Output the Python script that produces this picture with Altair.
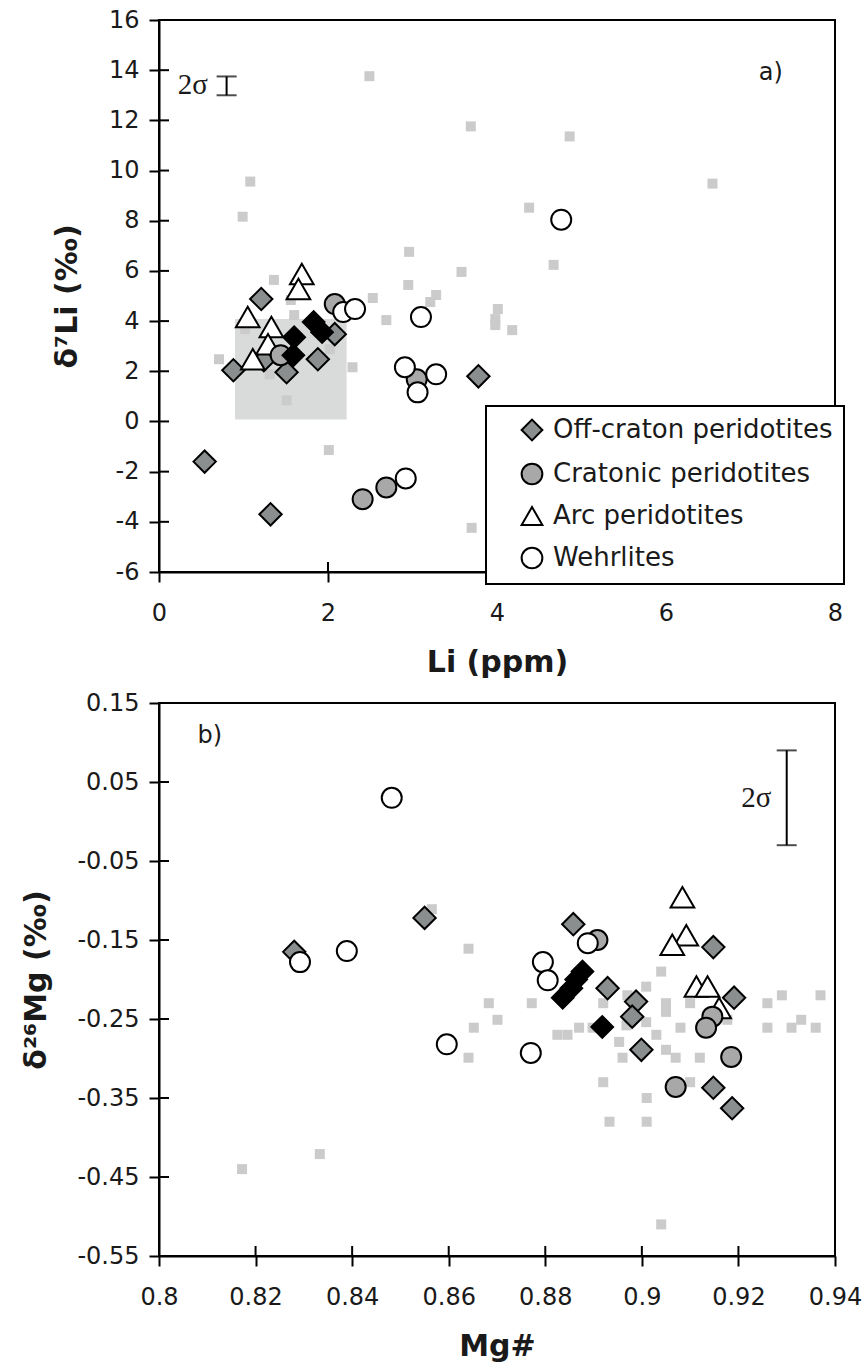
import altair as alt
import pandas as pd

# ---------------- data: panel a (Li vs d7Li) ----------------
cats = ["Off-craton peridotites", "Cratonic peridotites", "Arc peridotites", "Wehrlites"]

a_off_x = [0.54, 1.32, 0.88, 1.21, 1.24, 1.51, 1.88, 2.08, 3.78]
a_off_y = [-1.6, -3.7, 2.04, 4.88, 2.44, 1.96, 2.48, 3.48, 1.8]
a_crat_x = [2.08, 1.44, 3.05, 2.41, 2.69]
a_crat_y = [4.68, 2.64, 1.68, -3.1, -2.63]
a_arc_x = [1.69, 1.65, 1.05, 1.33, 1.29, 1.11]
a_arc_y = [5.88, 5.28, 4.16, 3.76, 3.08, 2.48]
a_weh_x = [2.18, 2.32, 3.10, 2.91, 3.28, 3.06, 4.76, 2.92]
a_weh_y = [4.36, 4.48, 4.16, 2.16, 1.88, 1.16, 8.04, -2.27]
a_blk_x = [1.60, 1.83, 1.93, 1.59]
a_blk_y = [3.36, 3.96, 3.56, 2.64]
a_lit_x = [1.08, 0.99, 2.96, 1.36, 3.58, 2.95, 3.28, 3.21, 2.53, 1.56, 2.69, 4.01, 3.98, 3.98,
           4.18, 1.60, 1.02, 0.71, 2.29, 1.31, 1.51, 2.01, 2.02, 2.49, 3.69, 4.86, 6.55, 4.38,
           4.67, 3.70]
a_lit_y = [9.56, 8.16, 6.76, 5.64, 5.96, 5.44, 5.04, 4.76, 4.92, 4.84, 4.04, 4.48, 4.08, 3.84,
           3.64, 4.24, 3.68, 2.48, 2.16, 1.88, 0.84, -1.14, 2.88, 13.76, 11.76, 11.36, 9.48, 8.52,
           6.24, -4.24]
a_box = {"x": [0.9], "x2": [2.22], "y": [0.08], "y2": [4.08]}
a_xticks = [0, 2, 4, 6, 8]
a_yticks = [-6, -4, -2, 0, 2, 4, 6, 8, 10, 12, 14, 16]
a_sig = {"x": [0.80], "lo": [13.0], "hi": [13.75]}
a_texts = {"x": [0.40, 7.24], "y": [13.4, 13.9], "t": ["2σ", "a)"]}

# ---------------- data: panel b (Mg# vs d26Mg) ----------------
b_off_x = [0.828, 0.855, 0.8858, 0.9148, 0.8929, 0.8988, 0.898, 0.9191, 0.8999, 0.9148, 0.9187]
b_off_y = [-0.165, -0.122, -0.130, -0.159, -0.211, -0.228, -0.247, -0.223, -0.289, -0.337, -0.363]
b_crat_x = [0.8908, 0.9146, 0.9133, 0.9185, 0.907]
b_crat_y = [-0.150, -0.247, -0.261, -0.298, -0.336]
b_arc_x = [0.9084, 0.9092, 0.9063, 0.9113, 0.9136, 0.916]
b_arc_y = [-0.096, -0.144, -0.156, -0.209, -0.209, -0.236]
b_weh_x = [0.8482, 0.8292, 0.8389, 0.8596, 0.877, 0.8888, 0.8795, 0.8805]
b_weh_y = [0.030, -0.178, -0.164, -0.282, -0.293, -0.154, -0.178, -0.201]
b_blk_x = [0.8877, 0.8864, 0.8854, 0.8836, 0.8918]
b_blk_y = [-0.190, -0.200, -0.211, -0.223, -0.260]
b_lit_x = [0.8565, 0.8641, 0.8683, 0.8772, 0.8701, 0.8652, 0.8641, 0.8333, 0.8172,
           0.904, 0.9009, 0.892, 0.897, 0.905, 0.905, 0.910, 0.9177, 0.926, 0.929, 0.937,
           0.926, 0.931, 0.933, 0.936, 0.887, 0.8846, 0.8898, 0.8968, 0.9009, 0.903, 0.908,
           0.8953, 0.896, 0.905, 0.907, 0.912, 0.910, 0.892, 0.901, 0.8933, 0.901, 0.904, 0.8825]
b_lit_y = [-0.111, -0.161, -0.230, -0.230, -0.251, -0.261, -0.299, -0.421, -0.440,
           -0.190, -0.209, -0.230, -0.220, -0.230, -0.241, -0.230, -0.251, -0.230, -0.220, -0.220,
           -0.261, -0.261, -0.251, -0.261, -0.261, -0.270, -0.261, -0.258, -0.254, -0.270, -0.261,
           -0.279, -0.299, -0.289, -0.299, -0.299, -0.330, -0.330, -0.350, -0.380, -0.380, -0.510, -0.270]
b_xticks = [0.8, 0.82, 0.84, 0.86, 0.88, 0.9, 0.92, 0.94]
b_yticks = [-0.55, -0.45, -0.35, -0.25, -0.15, -0.05, 0.05, 0.15]
b_sig = {"x": [0.93], "lo": [-0.03], "hi": [0.09]}
b_texts = {"x": [0.9237, 0.8105], "y": [0.03, 0.108], "t": ["2σ", "b)"]}

# ---------------- styling ----------------
fills = ["#8a8e8e", "#a8a8a8", "#ffffff", "#ffffff"]
strokes = ["#000000", "#000000", "#000000", "#000000"]
shapes = ["diamond", "circle", "triangle-up", "circle"]
marker_size = {"Off-craton peridotites": 500, "Cratonic peridotites": 400,
               "Arc peridotites": 560, "Wehrlites": 400}
draw_rank = {"Off-craton peridotites": 0, "Arc peridotites": 1,
             "Cratonic peridotites": 2, "Wehrlites": 3}
FONT = "DejaVu Sans"
W, HA, HB = 676, 552, 553


def groups_df(xs, ys):
    rows = []
    for c, xv, yv in zip(cats, xs, ys):
        for a, b in zip(xv, yv):
            rows.append({"x": a, "y": b, "group": c})
    df = pd.DataFrame(rows)
    df["sz"] = df["group"].map(marker_size)
    df["ord"] = df["group"].map(draw_rank)
    return df


def make_panel(dom_x, dom_y, xticks, yticks, xtitle, ytitle, xfmt, yexpr, titlex,
               H, box, lit_x, lit_y, pts, blk_x, blk_y, sig, texts, legend):
    def X(field="x"):
        return alt.X(f"{field}:Q", scale=alt.Scale(domain=dom_x, nice=False, zero=False),
                     axis=alt.Axis(values=xticks, format=xfmt, title=xtitle, labelPadding=19,
                                   titlePadding=22),
                     title=xtitle)

    def Y(field="y"):
        return alt.Y(f"{field}:Q", scale=alt.Scale(domain=dom_y, nice=False, zero=False),
                     axis=alt.Axis(values=yticks, labelExpr=yexpr, title=ytitle, titleX=titlex,
                                   titleY=H / 2, titleBaseline="middle", titleAngle=-90,
                                   labelPadding=10),
                     title=ytitle)

    layers = []
    if box is not None:
        layers.append(alt.Chart(pd.DataFrame(box)).mark_rect(color="#d9dbdb").encode(
            x=X(), x2="x2:Q", y=Y(), y2="y2:Q"))
    layers.append(alt.Chart(pd.DataFrame({"x": lit_x, "y": lit_y})).mark_square(
        size=100, color="#cbcbcb", opacity=1).encode(x=X(), y=Y()))
    # inner halves of the crossing tick marks
    layers.append(alt.Chart(pd.DataFrame({"y": yticks})).mark_rule(
        color="black", strokeWidth=2).encode(y=Y(), x=alt.value(0), x2=alt.value(10)))
    layers.append(alt.Chart(pd.DataFrame({"x": xticks})).mark_rule(
        color="black", strokeWidth=2).encode(x=X(), y=alt.value(H - 10), y2=alt.value(H)))

    lg = None
    if legend:
        lg = alt.Legend(title=None, orient="none", legendX=327, legendY=386,
                        fillColor="white", strokeColor="black", padding=11,
                        symbolOffset=22, labelOffset=8, rowPadding=14, labelFontSize=26,
                        labelFont=FONT, labelColor="#1a1a1a", symbolSize=430,
                        symbolStrokeColor="black", symbolStrokeWidth=2, labelLimit=420)
    layers.append(alt.Chart(pts).mark_point(filled=True, strokeWidth=2, opacity=1).encode(
        x=X(), y=Y(),
        fill=alt.Fill("group:N", scale=alt.Scale(domain=cats, range=fills), legend=lg),
        shape=alt.Shape("group:N", scale=alt.Scale(domain=cats, range=shapes), legend=lg),
        stroke=alt.Stroke("group:N", scale=alt.Scale(domain=cats, range=strokes), legend=lg),
        size=alt.Size("sz:Q", scale=None),
        order=alt.Order("ord:Q"),
    ))
    layers.append(alt.Chart(pd.DataFrame({"x": blk_x, "y": blk_y})).mark_point(
        shape="diamond", filled=True, color="black", stroke="black", strokeWidth=1.5, size=500,
        opacity=1).encode(x=X(), y=Y()))

    sdf = pd.DataFrame(sig)
    layers.append(alt.Chart(sdf).mark_rule(color="black", strokeWidth=2).encode(
        x=X(), y=Y("lo"), y2="hi:Q"))
    cap = pd.DataFrame({"x": sig["x"] * 2, "y": sig["lo"] + sig["hi"]})
    layers.append(alt.Chart(cap).mark_tick(orient="horizontal", size=20, thickness=2,
                                           color="black").encode(x=X(), y=Y()))
    tdf = pd.DataFrame(texts)
    layers.append(alt.Chart(tdf.iloc[[0]]).mark_text(font="Liberation Serif", fontSize=29,
                                                     color="#1a1a1a").encode(
        x=X(), y=Y(), text="t:N"))
    layers.append(alt.Chart(tdf.iloc[[1]]).mark_text(font=FONT, fontSize=24,
                                                     color="#1a1a1a").encode(
        x=X(), y=Y(), text="t:N"))
    return alt.layer(*layers).properties(width=W, height=H)


dfa = groups_df([a_off_x, a_crat_x, a_arc_x, a_weh_x], [a_off_y, a_crat_y, a_arc_y, a_weh_y])
dfb = groups_df([b_off_x, b_crat_x, b_arc_x, b_weh_x], [b_off_y, b_crat_y, b_arc_y, b_weh_y])

minus_fix_a = "replace(format(datum.value, 'd'), '\u2212', '-')"
minus_fix_b = "replace(format(datum.value, '.2f'), '\u2212', '-')"

panel_a = make_panel([0, 8], [-6, 16], a_xticks, a_yticks, "Li (ppm)", "δ⁷Li (‰)", "d",
                     minus_fix_a, -92, HA, a_box, a_lit_x, a_lit_y, dfa, a_blk_x, a_blk_y,
                     a_sig, a_texts, True)
panel_b = make_panel([0.8, 0.94], [-0.55, 0.15], b_xticks, b_yticks, "Mg#", "δ²⁶Mg (‰)", "~g",
                     minus_fix_b, -123, HB, None, b_lit_x, b_lit_y, dfb, b_blk_x, b_blk_y,
                     b_sig, b_texts, False)

chart = alt.vconcat(panel_a, panel_b, spacing=12).resolve_scale(
    fill="independent", shape="independent", stroke="independent"
).resolve_legend(fill="independent", shape="independent", stroke="independent").properties(
    padding={"left": 20, "top": 7, "right": 0, "bottom": 0}, background="white"
).configure_view(stroke="black", strokeWidth=2).configure_axis(
    grid=False, domainColor="black", domainWidth=2, tickColor="black", tickWidth=2, tickSize=10,
    labelFont=FONT, labelFontSize=24, labelColor="#1a1a1a", titleFont=FONT, titleFontSize=30,
    titleFontWeight="bold", titleColor="#1a1a1a", labelFlush=False, labelOverlap=False
).configure_legend(strokeWidth=2)

chart.save("out.html", embed_options={"renderer": "svg", "actions": False})
